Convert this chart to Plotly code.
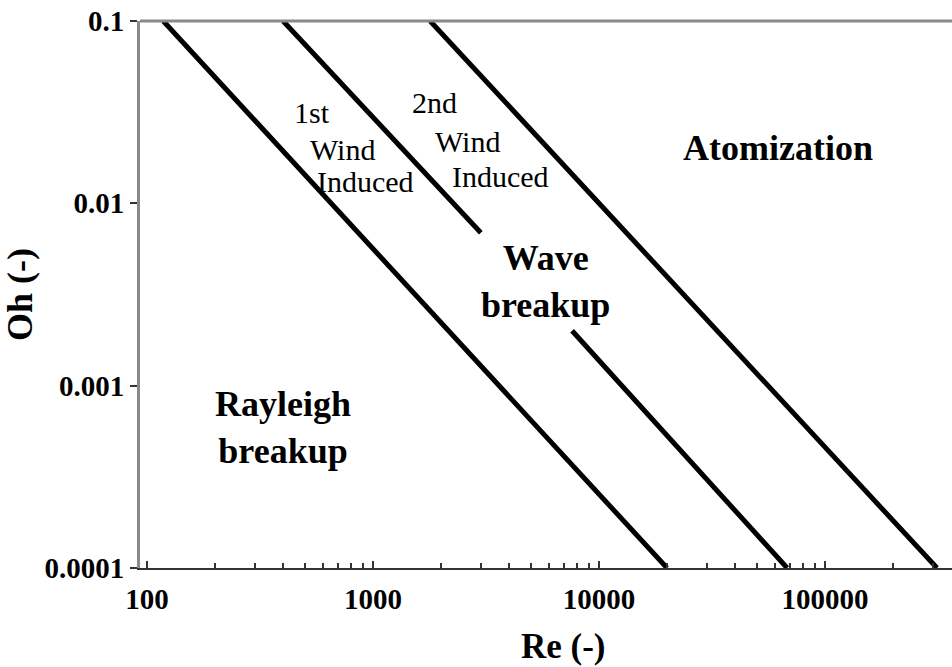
import plotly.graph_objects as go
import math

# Regime boundary lines (Re, Oh)
line1_re = [118, 20000]
line1_oh = [0.1, 0.0001]
line2_re = [400, 3000]
line2_oh = [0.1, 0.0069]
line3_re = [1790, 313000]
line3_oh = [0.1, 0.0001]
line4_re = [7600, 68000]
line4_oh = [0.002, 0.0001]

x_tickvals = [100, 1000, 10000, 100000]
x_ticktext = ["100", "1000", "10000", "100000"]
y_tickvals = [0.1, 0.01, 0.001, 0.0001]
y_ticktext = ["0.1", "0.01", "0.001", "0.0001"]

# Region labels: (text, Re, Oh, size, bold)
labels_text = ["1st", "Wind", "Induced", "2nd", "Wind", "Induced",
               "Atomization", "Wave<br>breakup", "Rayleigh<br>breakup"]
labels_re = [537, 730, 931, 1880, 2610, 3650, 61900, 5770, 400]
labels_oh = [0.0315, 0.0197, 0.0132, 0.0357, 0.0218, 0.0140, 0.0202, 0.00372, 0.000589]
labels_size = [30, 30, 30, 30, 30, 30, 36, 36, 36]
labels_bold = [False, False, False, False, False, False, True, True, True]

FONT = "Liberation Serif"

fig = go.Figure()
for xs, ys in [(line1_re, line1_oh), (line2_re, line2_oh),
               (line3_re, line3_oh), (line4_re, line4_oh)]:
    fig.add_trace(go.Scatter(x=xs, y=ys, mode="lines",
                             line=dict(color="black", width=5),
                             showlegend=False, hoverinfo="skip"))

for t, xr, yo, s, b in zip(labels_text, labels_re, labels_oh, labels_size, labels_bold):
    fig.add_annotation(x=math.log10(xr), y=math.log10(yo), text=f"<b>{t}</b>" if b else t,
                       showarrow=False, xanchor="center", yanchor="middle",
                       font=dict(family=FONT, size=s, color="black"))

# x axis title placed as annotation (offset to the right as in the original)
fig.add_annotation(x=0.521, y=-0.143, xref="paper", yref="paper", text="<b>Re (-)</b>",
                   showarrow=False, xanchor="center", yanchor="middle",
                   font=dict(family=FONT, size=35, color="black"))

minor_vals = [m * 10 ** e for e in range(2, 6) for m in range(2, 10)]

fig.update_xaxes(type="log", range=[2 - 7 / 226, 2 + (952 - 147) / 226],
                 tickvals=x_tickvals, ticktext=[f"<b>{t}</b>" for t in x_ticktext],
                 ticks="inside", ticklen=7, tickwidth=2, tickcolor="#333",
                 ticklabelstandoff=4,
                 minor=dict(tickvals=minor_vals, ticks="inside", ticklen=5,
                            tickwidth=2, tickcolor="#333", showgrid=False),
                 showline=True, linecolor="#333", linewidth=2,
                 showgrid=False, zeroline=False,
                 tickfont=dict(family=FONT, size=29, color="black"))
fig.update_yaxes(type="log", range=[-4, -1],
                 tickvals=y_tickvals, ticktext=[f"<b>{t}</b>" for t in y_ticktext],
                 ticks="outside", ticklen=7, tickwidth=2, tickcolor="#333",
                 showline=True, linecolor="#8a8a8a", linewidth=3,
                 showgrid=False, zeroline=False,
                 tickfont=dict(family=FONT, size=29, color="black"),
                 title=dict(text="<b>Oh (-)</b>", font=dict(family=FONT, size=36, color="black"),
                            standoff=6))

fig.add_shape(type="line", xref="paper", yref="paper", x0=0, x1=1, y0=1, y1=1,
              line=dict(color="#8a8a8a", width=3))

fig.update_layout(width=952, height=667, margin=dict(l=140, r=0, t=21, b=99),
                  plot_bgcolor="white", paper_bgcolor="white",
                  font=dict(family=FONT))
fig.write_html("out.html")
